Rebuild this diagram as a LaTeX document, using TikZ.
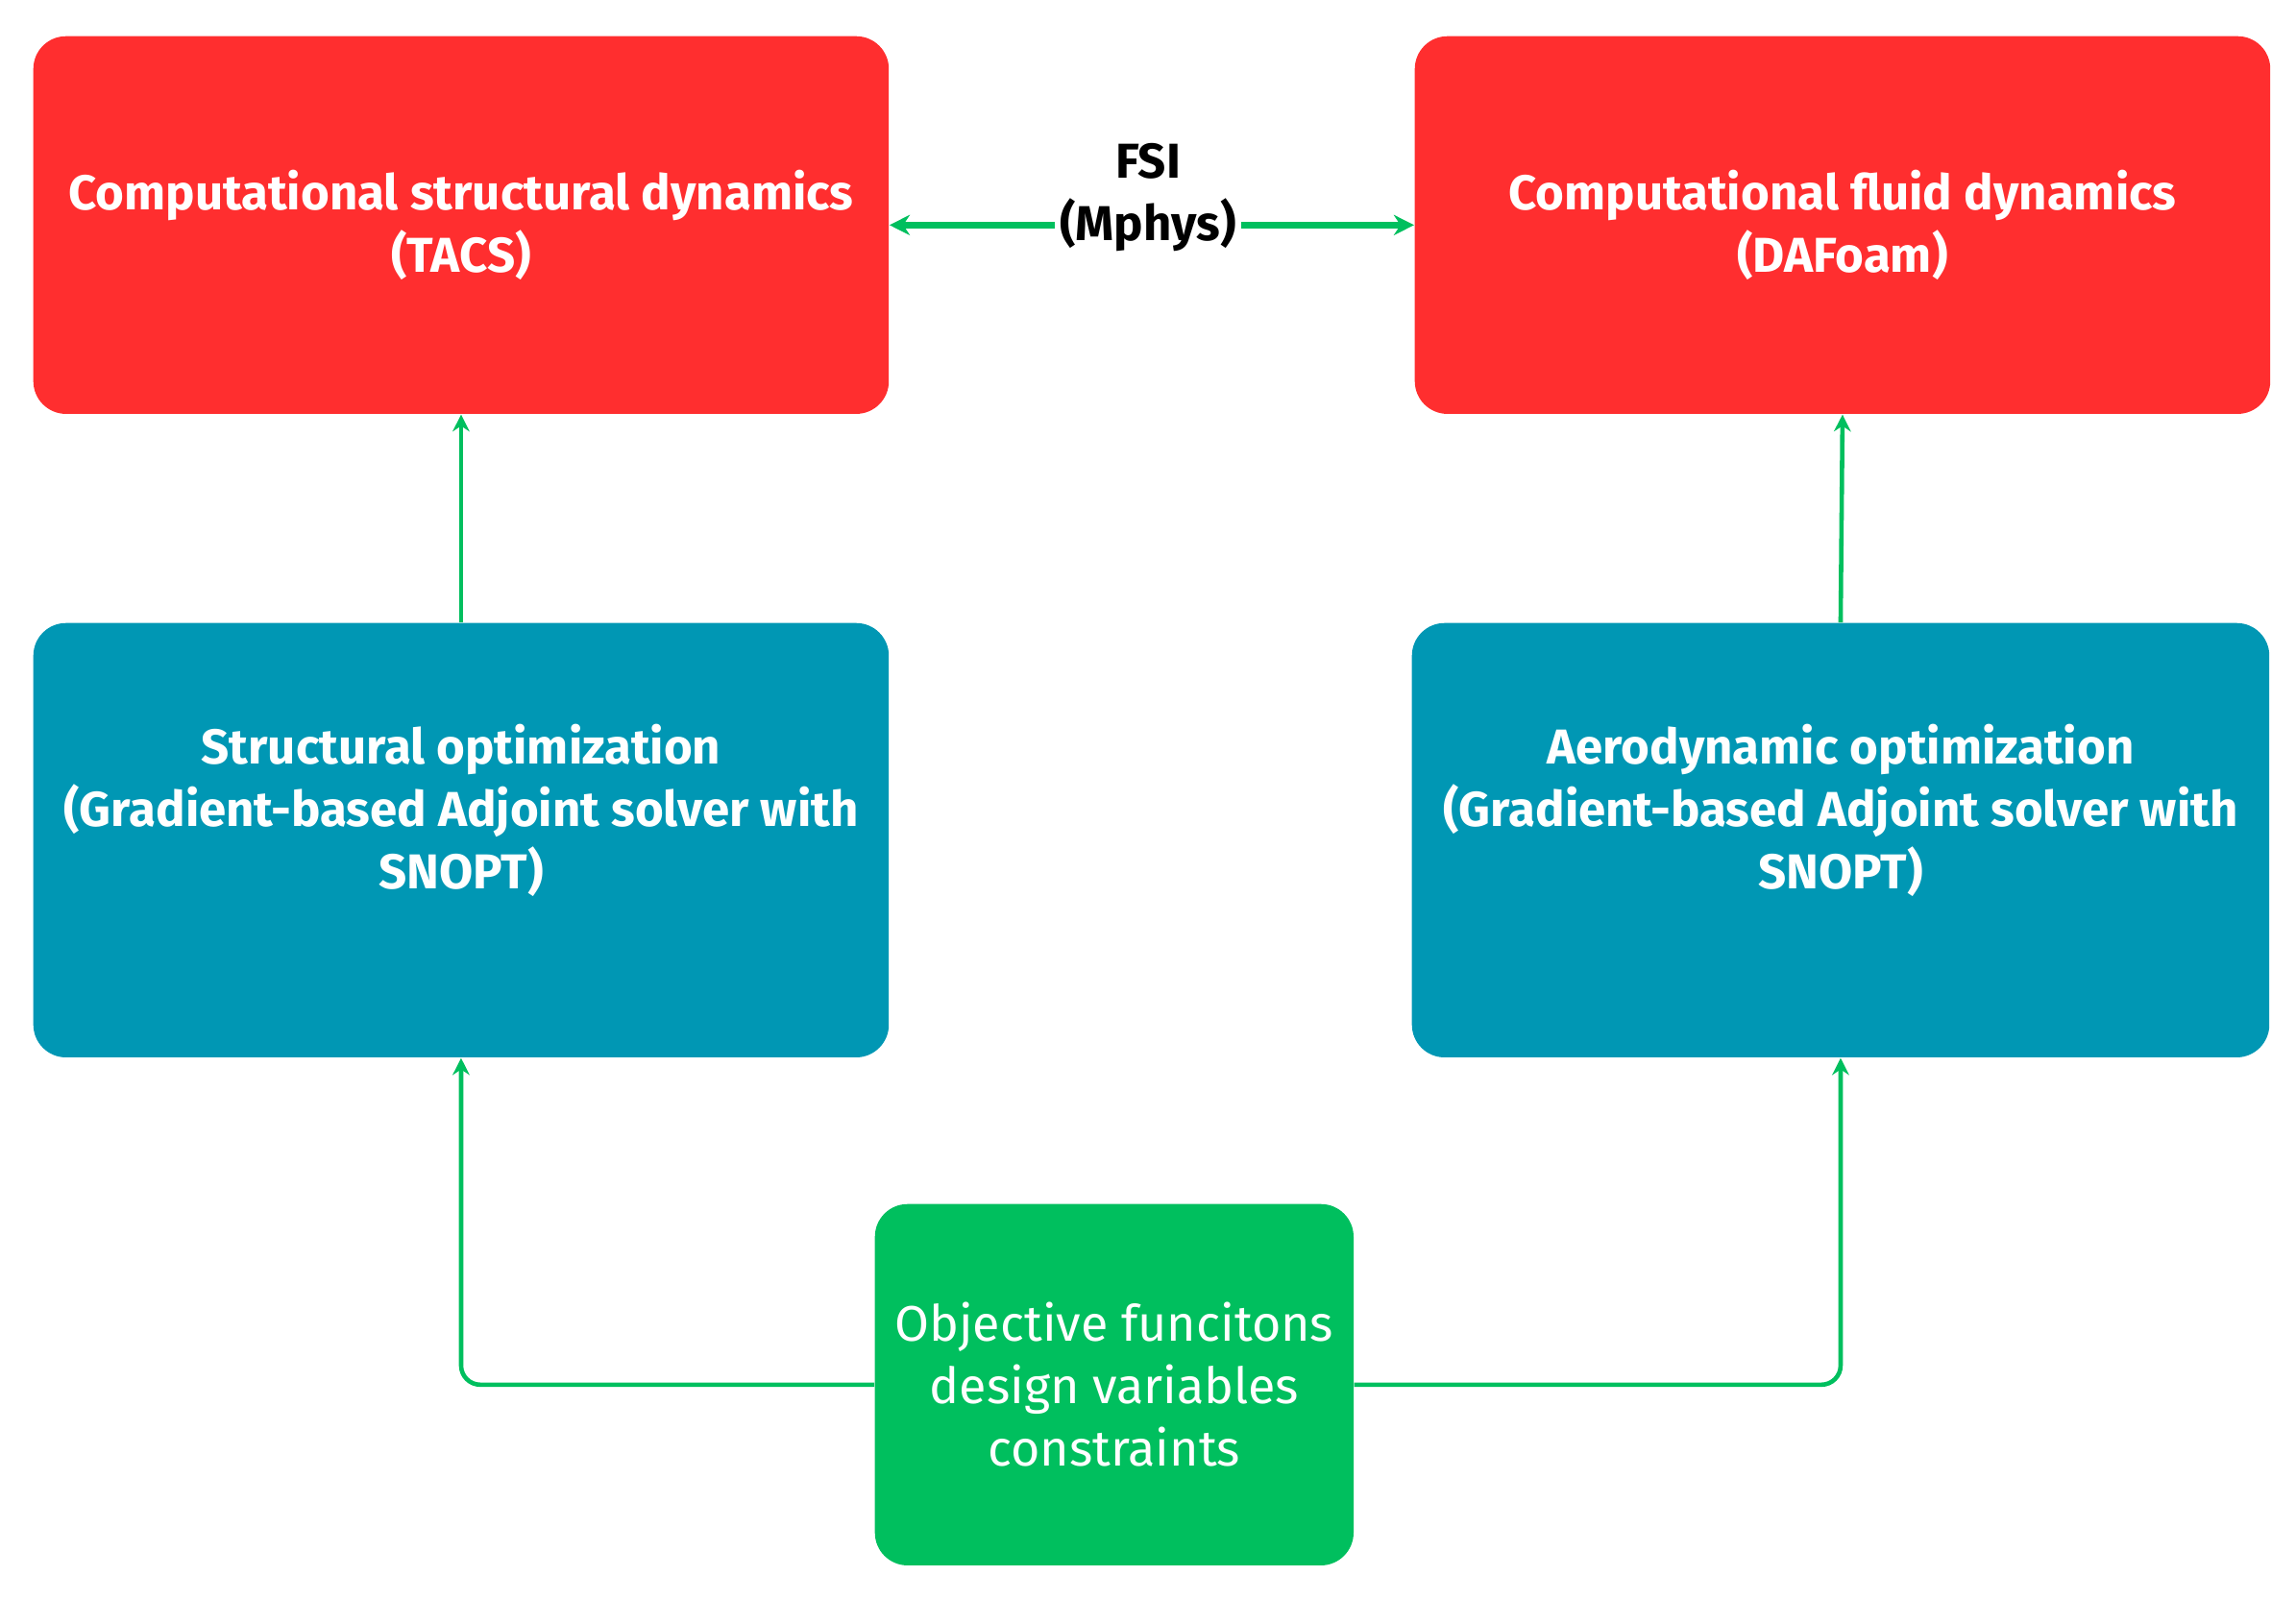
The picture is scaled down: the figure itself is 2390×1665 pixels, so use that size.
\documentclass[tikz,border=0pt]{standalone}
\usepackage{fontspec}
\setmainfont{Fira Sans}
\usetikzlibrary{arrows.meta}
\definecolor{cred}{HTML}{FF2E2F}
\definecolor{cblue}{HTML}{0097B4}
\definecolor{cgreen}{HTML}{00BF5E}
\begin{document}
\begin{tikzpicture}[x=0.01cm,y=-0.01cm,
  box/.style={rounded corners=0.34cm,inner sep=0pt,anchor=north west},
  txt/.style={text=white,align=center,font=\fontsize{14.5}{18.5}\selectfont\bfseries},
  conn/.style={draw=cgreen,line width=1.3pt,-{Stealth[length=5pt,width=5pt]}},
]
\useasboundingbox (0,0) rectangle (2390,1665);
% boxes
\node[box,fill=cred,minimum width=8.9cm,minimum height=3.93cm] (csd) at (34,37) {};
\node[box,fill=cred,minimum width=8.9cm,minimum height=3.93cm] (cfd) at (1472,37) {};
\node[box,fill=cblue,minimum width=8.9cm,minimum height=4.52cm] (so) at (34,648) {};
\node[box,fill=cblue,minimum width=8.92cm,minimum height=4.52cm] (ao) at (1469,648) {};
\node[box,fill=cgreen,minimum width=4.98cm,minimum height=3.76cm] (obj) at (910,1253) {};
% texts
\node[txt] (csdt) at (csd.center) {Computational structural dynamics\\(TACS)};
\node[txt] (cfdt) at (cfd.center) {Computational fluid dynamics\\(DAFoam)};
\node[txt] (sot) at ([yshift=0.31cm]so.center) {Structural optimization\\(Gradient-based Adjoint solver with\\SNOPT)};
\node[txt] (aot) at ([yshift=0.31cm]ao.center) {Aerodynamic optimization\\(Gradient-based Adjoint solver with\\SNOPT)};
\node[txt,font=\fontsize{14.8}{18.5}\selectfont] (objt) at (obj.center) {Objective funcitons\\design variables\\constraints};
% connectors
\draw[draw=cgreen,line width=2pt,{Stealth[length=6pt,width=6pt]}-{Stealth[length=6pt,width=6pt]}] (csd.east) -- (cfd.west);
\node[fill=white,inner sep=1.5pt,align=center,font=\fontsize{14.5}{18.5}\selectfont\bfseries] (fsi) at (1195,206) {FSI\\(Mphys)};
\draw[conn] (so.north) -- (csd.south);
\draw[conn] (ao.north) -- (cfd.south);
\draw[conn,rounded corners=0.2cm] (obj.west) -| (so.south);
\draw[conn,rounded corners=0.2cm] (obj.east) -| (ao.south);
\end{tikzpicture}
\end{document}
